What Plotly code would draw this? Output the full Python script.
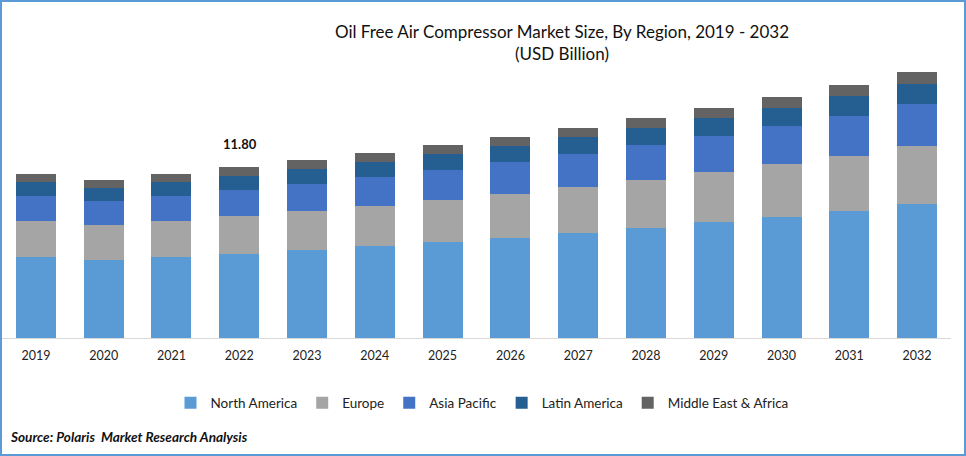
import plotly.graph_objects as go

W = 966
H = 456

years = ['2019', '2020', '2021', '2022', '2023', '2024', '2025', '2026',
         '2027', '2028', '2029', '2030', '2031', '2032']

north_america = [5.59, 5.38, 5.59, 5.80, 6.07, 6.35, 6.63, 6.90, 7.25, 7.59, 8.01, 8.35, 8.76, 9.25]
europe = [2.48, 2.42, 2.48, 2.62, 2.69, 2.76, 2.90, 3.04, 3.17, 3.31, 3.45, 3.66, 3.80, 4.00]
asia_pacific = [1.73, 1.66, 1.73, 1.79, 1.86, 2.00, 2.07, 2.21, 2.28, 2.42, 2.48, 2.62, 2.76, 2.90]
latin_america = [0.97, 0.90, 0.97, 0.97, 1.04, 1.04, 1.10, 1.10, 1.17, 1.17, 1.24, 1.24, 1.38, 1.38]
middle_east = [0.55, 0.55, 0.55, 0.62, 0.62, 0.62, 0.62, 0.62, 0.62, 0.69, 0.69, 0.76, 0.76, 0.83]

label_year = '2022'
label_value = 11.80

series = [
    ('North America', north_america, '#5B9BD5'),
    ('Europe', europe, '#A5A5A5'),
    ('Asia Pacific', asia_pacific, '#4472C4'),
    ('Latin America', latin_america, '#255E91'),
    ('Middle East & Africa', middle_east, '#636363'),
]

FONT = 'Lato, Carlito, sans-serif'

fig = go.Figure()
for name, values, color in series:
    fig.add_trace(go.Bar(name=name, x=years, y=values, marker=dict(color=color, line=dict(width=0))))

fig.add_annotation(x=years.index(label_year), y=label_value, xref='x', yref='y', yshift=23, xshift=1, showarrow=False,
                   text='<b>%.2f</b>' % label_value, font=dict(size=13, color='#111111', family=FONT))
fig.add_annotation(x=8 / W, y=1 - 437 / H, xref='paper', yref='paper', xanchor='left', yanchor='middle',
                   showarrow=False, text='<b><i>Source: Polaris  Market Research Analysis</i></b>',
                   font=dict(size=13.6, color='#111111', family=FONT))

# blue frame around the whole picture
fig.add_shape(type='rect', xref='paper', yref='paper', x0=1 / W, x1=1 - 1 / W, y0=1 / H, y1=1 - 1 / H,
              line=dict(color='#5B9BD5', width=2), fillcolor='rgba(0,0,0,0)')

fig.update_layout(
    width=W,
    height=H,
    autosize=False,
    margin=dict(l=0, r=0, t=0, b=0, autoexpand=False),
    barmode='stack',
    bargap=0.41,
    paper_bgcolor='white',
    plot_bgcolor='white',
    font=dict(family=FONT, color='#222222'),
    title=dict(text='Oil Free Air Compressor Market Size, By Region, 2019 - 2032<br>(USD Billion)',
               x=562 / W, xanchor='center', y=1 - 38 / H, yanchor='top',
               font=dict(size=17, color='#111111', family=FONT)),
    legend=dict(orientation='h', x=482 / W, xanchor='center', y=1 - 403 / H, yanchor='middle',
                font=dict(size=13.5, color='#222222', family=FONT), traceorder='normal'),
    xaxis=dict(domain=[2 / W, 951 / W], type='category', range=[-0.5, 13.5], showgrid=False, ticks='', showline=True,
               ticklabelstandoff=6, linecolor='#D9D9D9', linewidth=1,
               tickfont=dict(size=12.5, color='#222222', family=FONT)),
    yaxis=dict(domain=[1 - 338 / H, 1], range=[0, 23.3], visible=False),
)

fig.write_html('out.html', config={'displayModeBar': False}, post_script="document.body.style.margin='0';")
